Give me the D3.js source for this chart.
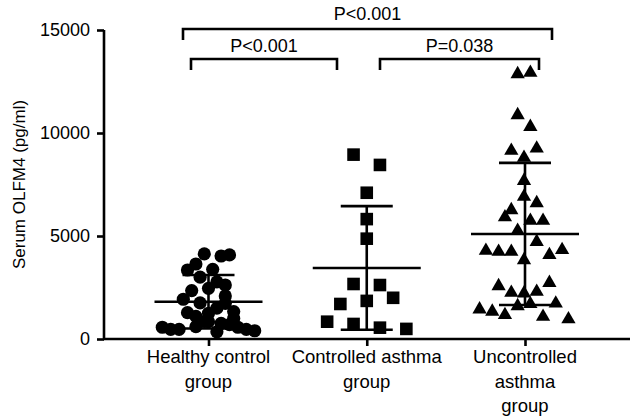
<!DOCTYPE html>
<html>
<head>
<meta charset="utf-8">
<script src="https://cdn.jsdelivr.net/npm/d3@7"></script>
<style>
  body { margin: 0; background: #fff; }
  text { font-family: "Liberation Sans", Arial, sans-serif; fill: #000; }
</style>
</head>
<body>
<div id="chart"></div>
<script>
// data (pg/ml); slot = horizontal column in the scatter
const groups = [["Healthy control", "group"], ["Controlled asthma", "group"], ["Uncontrolled", "asthma", "group"]];
const yTicks = [0, 5000, 10000, 15000];

const healthy = [4130, 4030, 4080, 3640, 3350, 3380, 3000, 2620, 2350, 2460, 1930, 2090, 1280, 1330, 1250,
  570, 470, 470, 600, 840, 760, 570, 470, 400, 2770, 1730, 1750, 1000, 850, 1500, 1100, 700, 350];
const healthySlot = [-1, 3, 5, -3, -5, 1, -2, 4, -4, 0, -6, 4, -5, 6, 0,
  -11, -9, -7, -3, 0, 3, 7, 9, 11, 2, 4, -2, 6, -1, 2, -3, 5, 2];

const controlled = [8950, 8450, 7100, 5820, 4870, 2670, 2620, 2000, 1700, 1850, 840, 730, 550, 490];
const controlledSlot = [-1, 1, 0, 0, 0, -1, 1, 2, -2, 0, -3, -1, 1, 3];

const uncontrolled = [12860, 12930, 10870, 10300, 9140, 9250, 8800, 7680, 6910, 6600, 6260, 5910, 5740, 5740,
  5260, 4720, 4290, 4240, 4240, 4080, 4320, 3830, 2570, 2730, 2250, 2220, 2300, 1600, 1700, 1730, 1440, 1330,
  1170, 1080, 960];
const uncontrolledSlot = [-1, 1, -1, 1, -2, 2, 0, 0, 0, 2, -2, -3, 1, 3,
  -1, 2, -6, -4, -2, 4, 6, 0, -4, 4, -2, 0, 2, -1, 1, 5, -7, -5,
  -3, 3, 7];

const means = [1810, 3450, 5100];
const sds = [1300, 3000, 3450];

const brackets = [
  { from: 0, to: 2, label: "P<0.001" },
  { from: 0, to: 1, label: "P<0.001" },
  { from: 1, to: 2, label: "P=0.038" }
];

const width = 634;
const height = 420;

const svg = d3.select("#chart").append("svg")
  .attr("width", width)
  .attr("height", height);

const x = d3.scaleLinear().domain([0, 2]).range([208.5, 525]);
const y = d3.scaleLinear().domain([0, 15000]).range([339, 30]);

// axes
const yAxis = svg.append("g")
  .attr("transform", "translate(104,0)")
  .call(d3.axisLeft(y).tickValues(yTicks).tickSize(7).tickPadding(7).tickFormat(d3.format("d")));
yAxis.select(".domain").attr("d", `M0,${y(15000)}V${y(0)}`);

const xAxis = svg.append("g")
  .attr("transform", `translate(0,${y(0)})`)
  .call(d3.axisBottom(x).tickValues([0, 1, 2]).tickSize(7).tickFormat(""));
xAxis.select(".domain").attr("d", "M103,0H630");

svg.selectAll(".domain, .tick line").attr("stroke", "#000").attr("stroke-width", 2.6);
yAxis.selectAll(".tick text").style("font-size", "18px").attr("font-family", null);

svg.append("text")
  .attr("transform", `translate(19,${(y(0) + y(15000)) / 2}) rotate(-90)`)
  .attr("text-anchor", "middle")
  .attr("dy", "0.35em")
  .style("font-size", "17px")
  .text("Serum OLFM4 (pg/ml)");

// category labels, multi-line
groups.forEach((lines, i) => {
  const t = svg.append("text")
    .attr("text-anchor", "middle")
    .style("font-size", "18.5px");
  lines.forEach((ln, k) => {
    t.append("tspan").attr("x", x(i)).attr("y", 363 + k * 24.5).text(ln);
  });
});

// mean +- SD
const bar = svg.append("g").attr("stroke", "#000").attr("stroke-width", 2.6).attr("fill", "none");
means.forEach((m, i) => {
  const cx = x(i);
  bar.append("line").attr("x1", cx).attr("x2", cx).attr("y1", y(m - sds[i])).attr("y2", y(m + sds[i]));
  bar.append("line").attr("x1", cx - 54).attr("x2", cx + 54).attr("y1", y(m)).attr("y2", y(m));
  [m - sds[i], m + sds[i]].forEach(v => {
    bar.append("line").attr("x1", cx - 26).attr("x2", cx + 26).attr("y1", y(v)).attr("y2", y(v));
  });
});

// points
svg.append("g").selectAll("circle")
  .data(healthy)
  .join("circle")
  .attr("cx", (d, i) => x(0) + healthySlot[i] * 4.2)
  .attr("cy", d => y(d))
  .attr("r", 6.6)
  .attr("fill", "#000");

svg.append("g").selectAll("rect")
  .data(controlled)
  .join("rect")
  .attr("x", (d, i) => x(1) + controlledSlot[i] * 13.2 - 6.3)
  .attr("y", d => y(d) - 6.3)
  .attr("width", 12.6)
  .attr("height", 12.6)
  .attr("fill", "#000");

const tri = d3.symbol().type(d3.symbolTriangle).size(88);
svg.append("g").selectAll("path")
  .data(uncontrolled)
  .join("path")
  .attr("transform", (d, i) => `translate(${x(2) - 1 + uncontrolledSlot[i] * 6.35},${y(d)})`)
  .attr("d", tri)
  .attr("fill", "#000");

// significance brackets
const bLayout = [
  { x1: 183, x2: 552, yb: 29, ty: 20 },
  { x1: 191, x2: 337, yb: 59, ty: 52 },
  { x1: 380, x2: 539, yb: 59, ty: 52 }
];
brackets.forEach((b, i) => {
  const L = bLayout[i];
  svg.append("path")
    .attr("d", `M${L.x1},${L.yb + 11}V${L.yb}H${L.x2}V${L.yb + 11}`)
    .attr("fill", "none")
    .attr("stroke", "#000")
    .attr("stroke-width", 2.6);
  svg.append("text")
    .attr("x", (L.x1 + L.x2) / 2)
    .attr("y", L.ty)
    .attr("text-anchor", "middle")
    .style("font-size", "18px")
    .text(b.label);
});
</script>
</body>
</html>
